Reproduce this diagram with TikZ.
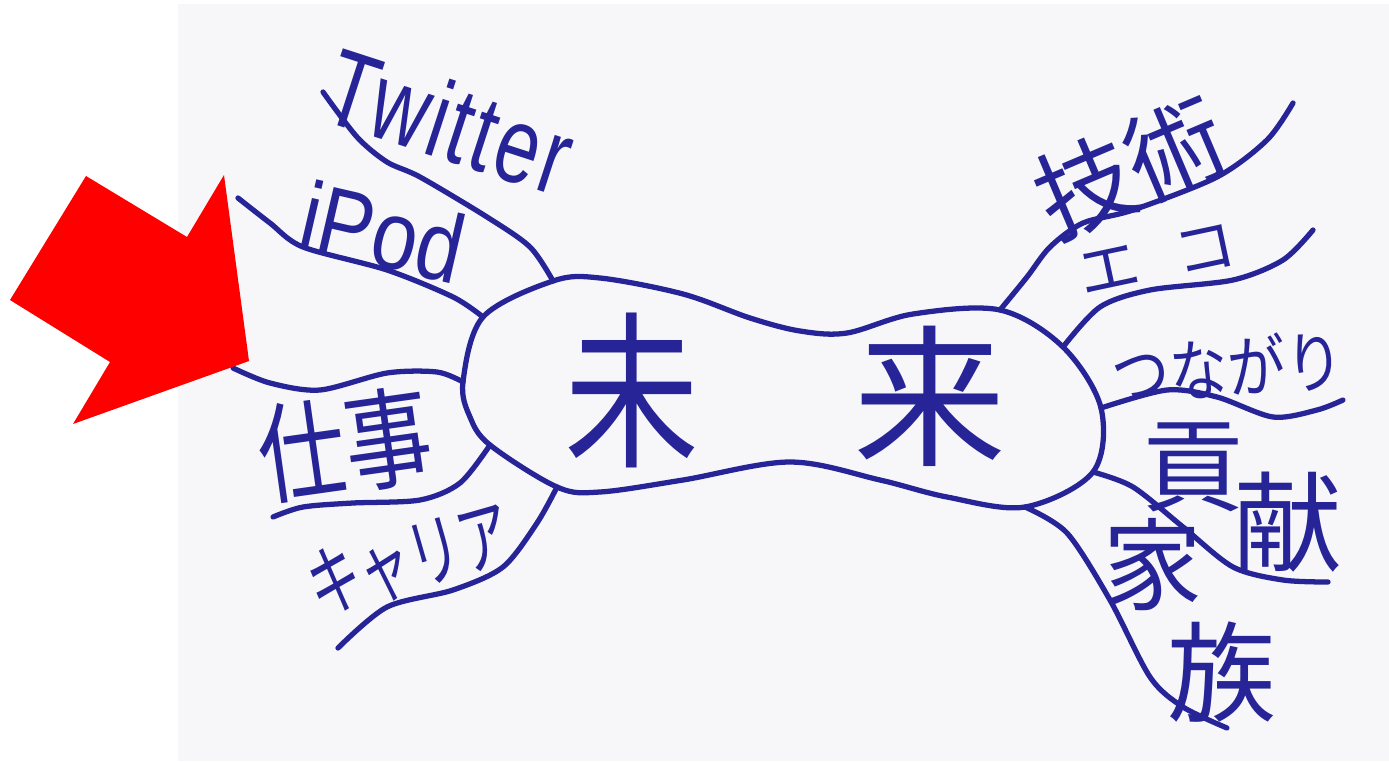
\documentclass[tikz,border=0pt]{standalone}
\usepackage{fontspec}
\setmainfont{Liberation Sans}
\newfontfamily\lat[FakeStretch=0.72, LetterSpace=3]{Liberation Sans}
\newfontfamily\latb[FakeStretch=0.84]{Liberation Sans}
\newfontfamily\jp{Noto Sans CJK JP}
\newfontfamily\jpn[FakeStretch=0.8]{Noto Sans CJK JP}
\newfontfamily\jpc[FakeStretch=0.66]{Noto Sans CJK JP}
\newfontfamily\jpt[FakeStretch=0.86]{Noto Sans CJK JP}
\definecolor{ink}{RGB}{38,36,150}
\definecolor{paper}{RGB}{247,247,249}
\definecolor{arrowred}{RGB}{255,0,0}
\tikzset{
  pen/.style={draw=ink, line width=3pt, line cap=round, line join=round},
  lbl/.style={text=ink, inner sep=0pt, outer sep=0pt},
}
\begin{document}
\begin{tikzpicture}[x=0.02cm,y=-0.02cm]
\useasboundingbox (0,0) rectangle (1389,761);
\fill[white] (0,0) rectangle (1389,761);
\fill[paper] (178,4) rectangle (1389,761);

% junctions on the central outline
\coordinate (jTw) at (553,281);
\coordinate (jIp) at (483,317);
\coordinate (jSh1) at (463,382);
\coordinate (jSh2) at (490,445);
\coordinate (jCa) at (557,487);
\coordinate (jGi) at (1000,310);
\coordinate (jEc) at (1063,347);
\coordinate (jTs) at (1101,408);
\coordinate (jKo) at (1093,472);
\coordinate (jKa) at (1025,507);
% free ends of branches
\coordinate (eTw) at (323,92);
\coordinate (eIp) at (238,198);
\coordinate (eSh1) at (233,368);
\coordinate (eSh2) at (273,517);
\coordinate (eCa) at (338,648);
\coordinate (eGi) at (1293,103);
\coordinate (eEc) at (1313,230);
\coordinate (eTs) at (1343,400);
\coordinate (eKo) at (1328,582);
\coordinate (eKa) at (1227,728);

% central outline
\draw[pen] plot[smooth cycle, tension=0.55] coordinates {(jTw) (600,278) (683,294) (750,318) (800,331) (847,333) (913,314) (jGi) (jEc) (jTs) (jKo) (jKa) (947,497) (880,480) (790,462) (683,480) (600,492) (jCa) (jSh2) (470,417) (jSh1) (jIp)};

% branches
\draw[pen] plot[smooth] coordinates {(jTw) (530,247) (487,217) (420,177) (387,162) (357,137) (eTw)};
\draw[pen] plot[smooth] coordinates {(jIp) (453,297) (387,270) (303,247) (270,223) (eIp)};
\draw[pen] plot[smooth] coordinates {(jSh1) (437,372) (387,373) (320,390) (270,383) (eSh1)};
\draw[pen] plot[smooth] coordinates {(jSh2) (460,483) (420,500) (353,503) (303,507) (eSh2)};
\draw[pen] plot[smooth] coordinates {(jCa) (537,523) (503,567) (453,590) (387,607) (eCa)};
\draw[pen] plot[smooth] coordinates {(jGi) (1027,277) (1050,247) (1083,223) (1133,210) (1217,177) (1267,140) (eGi)};
\draw[pen] plot[smooth] coordinates {(jEc) (1100,307) (1150,290) (1233,280) (1283,260) (eEc)};
\draw[pen] plot[smooth] coordinates {(jTs) (1167,390) (1217,397) (1273,417) (1317,410) (eTs)};
\draw[pen] plot[smooth] coordinates {(jKo) (1133,487) (1183,527) (1233,567) (1283,580) (eKo)};
\draw[pen] plot[smooth] coordinates {(jKa) (1067,533) (1110,600) (1150,677) (1183,707) (eKa)};

% labels
\node[lbl, font=\fontsize{96}{100}\selectfont\jpn] (mi) at (632,390) {未};
\node[lbl, font=\fontsize{87}{90}\selectfont\jp] (rai) at (930,396) {来};
\node[lbl, font=\fontsize{62}{66}\selectfont\lat, rotate=-18] (tTw) at (450,121) {Twitter};
\node[lbl, font=\fontsize{55.6}{60}\selectfont\latb, rotate=-13] (tIp) at (383,232) {iPod};
\node[lbl, font=\fontsize{62}{66}\selectfont\jpn, rotate=8] (tSh) at (345,445) {仕事};
\node[lbl, font=\fontsize{45}{50}\selectfont\jpc, rotate=16] (tCa) at (410,560) {キャリア};
\node[lbl, font=\fontsize{56}{60}\selectfont\jp, rotate=23] (tGi) at (1130,168) {技術};
\node[lbl, font=\fontsize{35}{40}\selectfont\jp, rotate=12] (tEc) at (1157,260) {エ\hspace{0.6em}コ};
\node[lbl, font=\fontsize{38.5}{42}\selectfont\jpt, rotate=4] (tTs) at (1228,367) {つながり};
\node[lbl, font=\fontsize{58}{62}\selectfont\jp] (tKo1) at (1193,467) {貢};
\node[lbl, font=\fontsize{62}{66}\selectfont\jp] (tKo2) at (1288,522) {献};
\node[lbl, font=\fontsize{57}{60}\selectfont\jp] (tKa1) at (1153,565) {家};
\node[lbl, font=\fontsize{62}{66}\selectfont\jp] (tKa2) at (1222,672) {族};

% red arrow
\fill[arrowred] (86,176) -- (187,237) -- (224,175) -- (249,361) -- (73,424) -- (110,362) -- (10,300) -- cycle;
\end{tikzpicture}
\end{document}
